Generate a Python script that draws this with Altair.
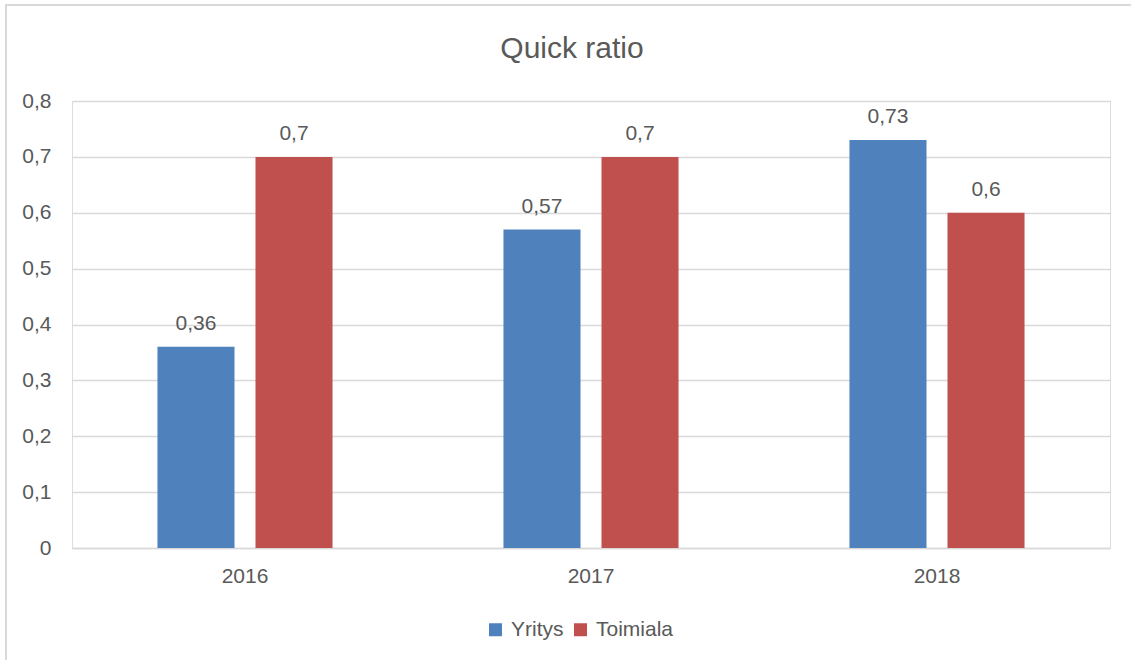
import altair as alt
import pandas as pd

years = ["2016", "2017", "2018"]
series_names = ["Yritys", "Toimiala"]
yritys = [0.36, 0.57, 0.73]
toimiala = [0.7, 0.7, 0.6]
colors = ["#4F81BD", "#C0504D"]

rows = []
for i, y in enumerate(years):
    rows.append({"year": y, "series": "Yritys", "value": yritys[i]})
    rows.append({"year": y, "series": "Toimiala", "value": toimiala[i]})
df = pd.DataFrame(rows)

FONT = "Liberation Sans, Arial, sans-serif"
TXT = "#595959"
GRID = "#D9D9D9"
FS = 21

x = alt.X("year:N", title=None,
          scale=alt.Scale(paddingInner=0.494, paddingOuter=0.247),
          axis=alt.Axis(labelAngle=0, ticks=False, domainColor=GRID, domainWidth=1.5,
                        labelPadding=17, labelFontSize=FS, labelColor=TXT, labelFont=FONT))
xo = alt.XOffset("series:N", sort=series_names,
                 scale=alt.Scale(paddingInner=0.214, paddingOuter=0))
y = alt.Y("value:Q", title=None,
          scale=alt.Scale(domain=[0, 0.8], nice=False),
          axis=alt.Axis(values=[0, 0.1, 0.2, 0.3, 0.4, 0.5, 0.6, 0.7, 0.8],
                        labelExpr="replace(toString(datum.value), '.', ',')",
                        domain=False, ticks=False, gridColor=GRID, gridWidth=1.5,
                        labelPadding=21, labelFontSize=FS, labelColor=TXT, labelFont=FONT))
color = alt.Color("series:N", sort=series_names,
                  scale=alt.Scale(domain=series_names, range=colors),
                  legend=alt.Legend(title=None, orient="none", direction="horizontal",
                                    legendX=413, legendY=518, symbolType="square",
                                    symbolSize=169, symbolStrokeWidth=0, labelFontSize=FS,
                                    labelColor=TXT, labelFont=FONT, labelOffset=5,
                                    columnPadding=6))

base = alt.Chart(df)
bars = base.mark_bar().encode(x=x, xOffset=xo, y=y, color=color)
labels = base.mark_text(dy=-17, baseline="alphabetic", fontSize=FS, color=TXT, font=FONT).transform_calculate(
    lab="replace(toString(datum.value), '.', ',')"
).encode(x=x, xOffset=xo, y=y, text="lab:N")

border_top = alt.Chart(pd.DataFrame({"a": [0]})).mark_rule(color=GRID, strokeWidth=2).encode(
    x=alt.value(-67), x2=alt.value(1100), y=alt.value(-96))
border_left = alt.Chart(pd.DataFrame({"a": [0]})).mark_rule(color=GRID, strokeWidth=2).encode(
    x=alt.value(-66), y=alt.value(-97), y2=alt.value(600))

chart = alt.layer(border_top, border_left, bars, labels).properties(
    width=1038, height=447,
    title=alt.TitleParams("Quick ratio", fontSize=30, font=FONT, color=TXT, fontWeight="normal",
                          anchor="middle", dx=-19, offset=-61),
    autosize=alt.AutoSizeParams(type="none"),
    padding={"left": 72, "top": 101, "right": 21, "bottom": 112},
).configure_view(stroke=None).configure(background="white")

chart.save("out.html", embed_options={"renderer": "svg", "actions": False})
